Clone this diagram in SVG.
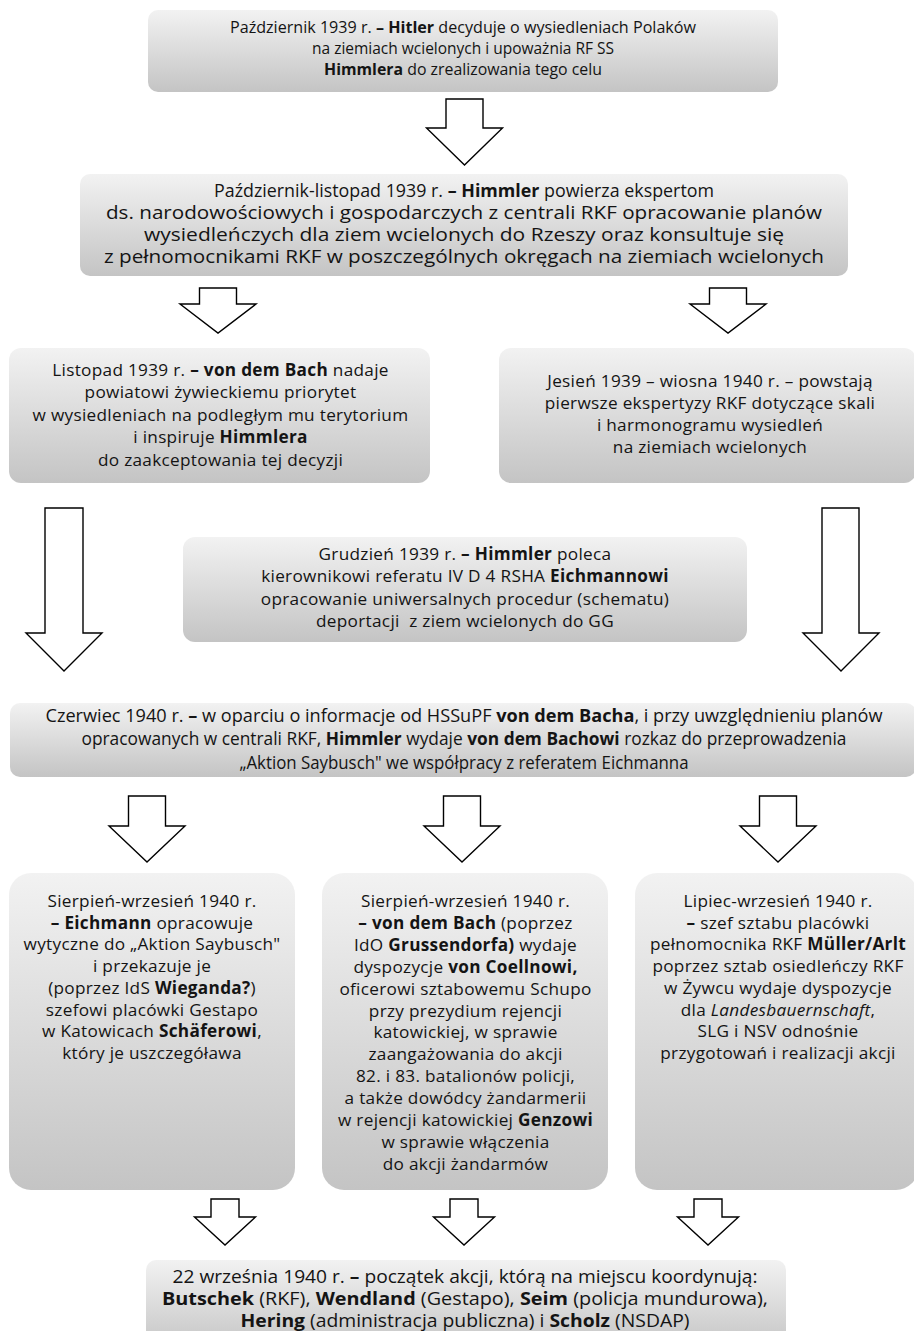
<svg xmlns="http://www.w3.org/2000/svg" width="914" height="1331" viewBox="0 0 914 1331">
<defs>
<linearGradient id="g" x1="0" y1="0" x2="0" y2="1">
<stop offset="0" stop-color="#f2f2f2"/>
<stop offset="1" stop-color="#c4c4c4"/>
</linearGradient>
<style>
.box{fill:url(#g);}
text{font-family:"Open Sans","Noto Sans","DejaVu Sans",sans-serif;font-size:17.2px;letter-spacing:0.3px;fill:#141414;text-anchor:middle}
.c1{font-stretch:92%;font-size:16.6px;letter-spacing:0}
.c2{font-stretch:96%;font-size:17.4px;letter-spacing:0}
.c3{font-stretch:98%;font-size:17.7px;letter-spacing:0}
.c4{font-stretch:100%;font-size:17.4px;letter-spacing:0}
.b{font-weight:700}
.i{font-style:italic}
.arrow{fill:#fff;stroke:#000;stroke-width:1.4;stroke-linejoin:miter}
</style>
</defs>
<rect width="914" height="1331" fill="#fff"/>
<g id="connectors">
<path class="arrow" d="M446,99 H483 V128 H502.5 L464.5,165 L426.5,128 H446 Z"/>
<path class="arrow" d="M199.5,288 H236.5 V304 H256 L218,333 L180,304 H199.5 Z"/>
<path class="arrow" d="M709.5,288 H746.5 V304 H766 L728,333 L690,304 H709.5 Z"/>
<path class="arrow" d="M45,508 H83 V633 H102 L64,671 L26,633 H45 Z"/>
<path class="arrow" d="M822,508 H859 V633 H879 L841,671 L803,633 H822 Z"/>
<path class="arrow" d="M128.5,796 H165.5 V826 H185 L147,862 L109,826 H128.5 Z"/>
<path class="arrow" d="M443.5,796 H480.5 V826 H500 L462,862 L424,826 H443.5 Z"/>
<path class="arrow" d="M759.5,796 H796.5 V826 H816 L778,862 L740,826 H759.5 Z"/>
<path class="arrow" d="M211,1199 H239 V1217 H255.5 L225,1245 L194.5,1217 H211 Z"/>
<path class="arrow" d="M450,1199 H478 V1217 H494.5 L464,1245 L433.5,1217 H450 Z"/>
<path class="arrow" d="M694,1199 H722 V1217 H738.5 L708,1245 L677.5,1217 H694 Z"/>
</g>
<g id="n1">
<rect class="box" x="148" y="10" width="630" height="82" rx="10"/>
<text class="c1" x="463" y="33" textLength="466" lengthAdjust="spacingAndGlyphs">Październik 1939 r. <tspan class="b">– Hitler</tspan> decyduje o wysiedleniach Polaków</text>
<text class="c1" x="463" y="54" textLength="302" lengthAdjust="spacingAndGlyphs">na ziemiach wcielonych i upoważnia RF SS</text>
<text class="c1" x="463" y="75" textLength="278" lengthAdjust="spacingAndGlyphs"><tspan class="b">Himmlera</tspan> do zrealizowania tego celu</text>
</g>
<g id="n2">
<rect class="box" x="80" y="174" width="768" height="102" rx="10"/>
<text class="c2" x="464" y="197" textLength="500" lengthAdjust="spacingAndGlyphs">Październik-listopad 1939 r. <tspan class="b">– Himmler</tspan> powierza ekspertom</text>
<text class="c2" x="464" y="219" textLength="716" lengthAdjust="spacingAndGlyphs">ds. narodowościowych i gospodarczych z centrali RKF opracowanie planów</text>
<text class="c2" x="464" y="241" textLength="640" lengthAdjust="spacingAndGlyphs">wysiedleńczych dla ziem wcielonych do Rzeszy oraz konsultuje się</text>
<text class="c2" x="464" y="263" textLength="720" lengthAdjust="spacingAndGlyphs">z pełnomocnikami RKF w poszczególnych okręgach na ziemiach wcielonych</text>
</g>
<g id="n3">
<rect class="box" x="9" y="348" width="421" height="135" rx="12"/>
<text x="220.5" y="376">Listopad 1939 r. <tspan class="b">– von dem Bach</tspan> nadaje</text>
<text x="220.5" y="398">powiatowi żywieckiemu priorytet</text>
<text x="220.5" y="421">w wysiedleniach na podległym mu terytorium</text>
<text x="220.5" y="443">i inspiruje <tspan class="b">Himmlera</tspan></text>
<text x="220.5" y="466">do zaakceptowania tej decyzji</text>
</g>
<g id="n4">
<rect class="box" x="499" y="348" width="417" height="135" rx="12"/>
<text x="710" y="387">Jesień 1939 – wiosna 1940 r. – powstają</text>
<text x="710" y="409">pierwsze ekspertyzy RKF dotyczące skali</text>
<text x="710" y="431">i harmonogramu wysiedleń</text>
<text x="710" y="453">na ziemiach wcielonych</text>
</g>
<g id="n5">
<rect class="box" x="183" y="537" width="564" height="105" rx="12"/>
<text x="465" y="560">Grudzień 1939 r. <tspan class="b">– Himmler</tspan> poleca</text>
<text x="465" y="582">kierownikowi referatu IV D 4 RSHA <tspan class="b">Eichmannowi</tspan></text>
<text x="465" y="605">opracowanie uniwersalnych procedur (schematu)</text>
<text x="465" y="627">deportacji&#160; z ziem wcielonych do GG</text>
</g>
<g id="n6">
<rect class="box" x="10" y="703" width="906" height="74" rx="10"/>
<text class="c3" x="464" y="721.5" textLength="837" lengthAdjust="spacingAndGlyphs">Czerwiec 1940 r. <tspan class="b">–</tspan> w oparciu o informacje od HSSuPF <tspan class="b">von dem Bacha</tspan>, i przy uwzględnieniu planów</text>
<text class="c3" x="464" y="745" textLength="765" lengthAdjust="spacingAndGlyphs">opracowanych w centrali RKF, <tspan class="b">Himmler</tspan> wydaje <tspan class="b">von dem Bachowi</tspan> rozkaz do przeprowadzenia</text>
<text class="c3" x="464" y="768.5" textLength="449" lengthAdjust="spacingAndGlyphs">„Aktion Saybusch" we współpracy z referatem Eichmanna</text>
</g>
<g id="n7">
<rect class="box" x="9" y="873" width="286" height="317" rx="22"/>
<text x="152" y="907">Sierpień-wrzesień 1940 r.</text>
<text x="152" y="928.7"><tspan class="b">– Eichmann</tspan> opracowuje</text>
<text x="152" y="950.4">wytyczne do „Aktion Saybusch"</text>
<text x="152" y="972.1">i przekazuje je</text>
<text x="152" y="993.8">(poprzez IdS <tspan class="b">Wieganda?</tspan>)</text>
<text x="152" y="1015.5">szefowi placówki Gestapo</text>
<text x="152" y="1037.2">w Katowicach <tspan class="b">Schäferowi</tspan>,</text>
<text x="152" y="1058.9">który je uszczegóława</text>
</g>
<g id="n8">
<rect class="box" x="322" y="873" width="286" height="317" rx="22"/>
<text x="465.5" y="907">Sierpień-wrzesień 1940 r.</text>
<text x="465.5" y="928.9"><tspan class="b">– von dem Bach</tspan> (poprzez</text>
<text x="465.5" y="950.8">IdO <tspan class="b">Grussendorfa)</tspan> wydaje</text>
<text x="465.5" y="972.7">dyspozycje <tspan class="b">von Coellnowi,</tspan></text>
<text x="465.5" y="994.6">oficerowi sztabowemu Schupo</text>
<text x="465.5" y="1016.5">przy prezydium rejencji</text>
<text x="465.5" y="1038.4">katowickiej, w sprawie</text>
<text x="465.5" y="1060.3">zaangażowania do akcji</text>
<text x="465.5" y="1082.2">82. i 83. batalionów policji,</text>
<text x="465.5" y="1104.1">a także dowódcy żandarmerii</text>
<text x="465.5" y="1126">w rejencji katowickiej <tspan class="b">Genzowi</tspan></text>
<text x="465.5" y="1147.9">w sprawie włączenia</text>
<text x="465.5" y="1169.8">do akcji żandarmów</text>
</g>
<g id="n9">
<rect class="box" x="635" y="873" width="283" height="317" rx="22"/>
<text x="778" y="907">Lipiec-wrzesień 1940 r.</text>
<text x="778" y="928.7"><tspan class="b">–</tspan> szef sztabu placówki</text>
<text x="778" y="950.4">pełnomocnika RKF <tspan class="b">Müller/Arlt</tspan></text>
<text x="778" y="972.1">poprzez sztab osiedleńczy RKF</text>
<text x="778" y="993.8">w Żywcu wydaje dyspozycje</text>
<text x="778" y="1015.5">dla <tspan class="i">Landesbauernschaft</tspan>,</text>
<text x="778" y="1037.2">SLG i NSV odnośnie</text>
<text x="778" y="1058.9">przygotowań i realizacji akcji</text>
</g>
<g id="n10">
<rect class="box" x="146" y="1260" width="640" height="90" rx="10"/>
<text class="c4" x="465" y="1283" textLength="585" lengthAdjust="spacingAndGlyphs">22 września 1940 r. <tspan class="b">–</tspan> początek akcji, którą na miejscu koordynują:</text>
<text class="c4" x="465" y="1305" textLength="606" lengthAdjust="spacingAndGlyphs"><tspan class="b">Butschek</tspan> (RKF), <tspan class="b">Wendland</tspan> (Gestapo), <tspan class="b">Seim</tspan> (policja mundurowa),</text>
<text class="c4" x="465" y="1327" textLength="449" lengthAdjust="spacingAndGlyphs"><tspan class="b">Hering</tspan> (administracja publiczna) i <tspan class="b">Scholz</tspan> (NSDAP)</text>
</g>
</svg>
